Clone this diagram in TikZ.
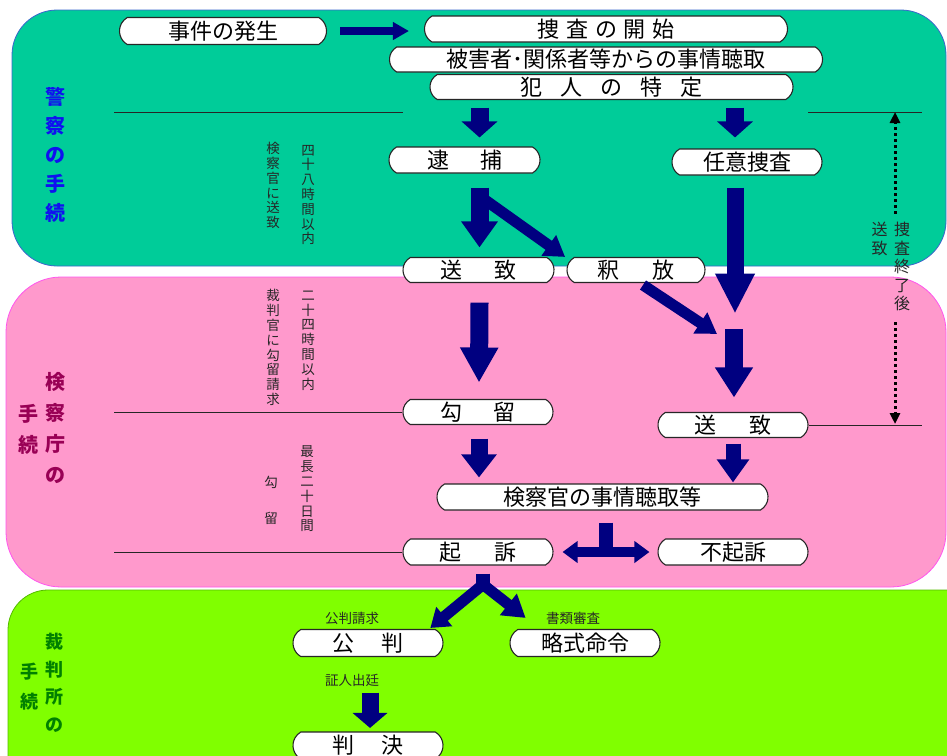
\documentclass[tikz,border=0pt]{standalone}
\usepackage{fontspec}
\setmainfont{Noto Sans CJK JP}
\usetikzlibrary{arrows.meta,calc,shapes.misc}
\definecolor{police}{HTML}{00CC99}
\definecolor{policeedge}{HTML}{3A66CC}
\definecolor{prosec}{HTML}{FF99CC}
\definecolor{prosecedge}{HTML}{FF55EE}
\definecolor{court}{HTML}{80FF00}
\definecolor{courtedge}{HTML}{55BB00}
\definecolor{navy}{HTML}{000080}
\definecolor{polblue}{HTML}{1010F0}
\definecolor{prosred}{HTML}{990055}
\definecolor{courtgreen}{HTML}{008000}
\newcommand{\jsp}[1]{\hspace{#1pt}}
\tikzset{
  box/.style={rounded rectangle, rounded rectangle arc length=120, draw=black!85, line width=1.1pt, fill=white,
    minimum height=25pt, inner sep=0pt, font=\fontsize{22}{22}\selectfont},
  blk/.style n args={3}{color=navy, line width=#1, -{Triangle[length=#3,width=#2]}},
  sepline/.style={draw=black!85, line width=0.9pt},
  vt/.style={align=center, inner sep=0pt, text=black!85, font=\fontsize{13.5}{14.8}\selectfont},
  plab/.style={align=center, inner sep=0pt},
  sl/.style={inner sep=0pt, text=black!85, font=\fontsize{13.5}{14}\selectfont},
  dots/.style={draw=black, line width=3pt, dash pattern=on 3pt off 3pt, -{Triangle[length=11pt,width=10pt]}}
}
\begin{document}
\begin{tikzpicture}[x=1pt,y=-1pt]
\useasboundingbox (0,0) rectangle (947,755);
\clip (0,0) rectangle (947,755);
\fill[white] (0,0) rectangle (947,755);
% panels
\draw[fill=police, draw=policeedge, line width=0.8pt, rounded corners=45pt] (12,10) rectangle (946,266);
\draw[fill=prosec, draw=prosecedge, line width=0.8pt, rounded corners=55pt] (6,277) rectangle (946,587);
\draw[fill=court, draw=courtedge, line width=0.8pt, rounded corners=40pt] (8,590) rectangle (1000,820);
% panel labels
\node[plab, text=polblue, font=\fontsize{20}{29}\selectfont\bfseries] (lpol) at (55,155) {警\\察\\の\\手\\続};
\node[plab, text=prosred, font=\fontsize{20}{31}\selectfont\bfseries] (lpro1) at (55,428.5) {検\\察\\庁\\の};
\node[plab, text=prosred, font=\fontsize{20}{31}\selectfont\bfseries] (lpro2) at (28,429) {手\\続};
\node[plab, text=courtgreen, font=\fontsize{18}{27.5}\selectfont\bfseries] (lcou1) at (54,683) {裁\\判\\所\\の};
\node[plab, text=courtgreen, font=\fontsize{18}{30}\selectfont\bfseries] (lcou2) at (29,687) {手\\続};
% boxes
\node[box, minimum width=207pt, minimum height=27pt] (jiken) at (223,31) {事件の発生};
\node[box, minimum width=363pt, minimum height=26pt] (sousa) at (606,29) {捜\jsp{7}査\jsp{7}の\jsp{7}開\jsp{7}始};
\node[box, minimum width=433pt] (choushu) at (606,59.5) {被害者･関係者等からの事情聴取};
\node[box, minimum width=363pt] (hannin) at (611.5,87) {犯\jsp{18}人\jsp{18}の\jsp{18}特\jsp{18}定};
\node[box, minimum width=151pt, minimum height=26pt] (taiho) at (464.5,160) {逮\jsp{31}捕};
\node[box, minimum width=150pt, minimum height=26pt] (nini) at (747,162) {任意捜査};
\node[box, minimum width=151pt] (souchi1) at (478.5,270) {送\jsp{32}致};
\node[box, minimum width=138pt] (shakuho) at (636,270) {釈\jsp{33}放};
\node[box, minimum width=150pt] (kouryu) at (478,412) {勾\jsp{31}留};
\node[box, minimum width=150pt] (souchi2) at (733,425) {送\jsp{33}致};
\node[box, minimum width=331pt, minimum height=26pt] (kensatsu) at (602.5,497) {検察官の事情聴取等};
\node[box, minimum width=150pt, minimum height=26pt] (kiso) at (478,552) {起\jsp{33}訴};
\node[box, minimum width=150pt, minimum height=26pt] (fukiso) at (733,552) {不起訴};
\node[box, minimum width=150pt, minimum height=27pt] (kouhan) at (368,643) {公\jsp{28}判};
\node[box, minimum width=150pt, minimum height=27pt] (ryakushiki) at (585,643) {略式命令};
\node[box, minimum width=150pt, minimum height=27pt] (hanketsu) at (368,745.5) {判\jsp{28}決};
% separator lines
\coordinate (s1a) at (114,112);
\coordinate (s1b) at (403,112);
\coordinate (s2a) at (808,112);
\coordinate (s2b) at (922,112);
\coordinate (s3a) at (114,412);
\coordinate (s4a) at (114,552);
\coordinate (s5b) at (922,425);
\draw[sepline] (s1a) -- (s1b);
\draw[sepline] (s2a) -- (s2b);
\draw[sepline] (s3a) -- (kouryu.west);
\draw[sepline] (s4a) -- (kiso.west);
\draw[sepline] (souchi2.east) -- (s5b);
% vertical small texts
\node[vt] (t1) at (273,185.5) {検\\察\\官\\に\\送\\致};
\node[vt] (t2) at (308,195) {四\\十\\八\\時\\間\\以\\内};
\node[vt] (t3) at (273,347.5) {裁\\判\\官\\に\\勾\\留\\請\\求};
\node[vt] (t4) at (308,340.5) {二\\十\\四\\時\\間\\以\\内};
\node[vt] (t5) at (271,482) {勾};
\node[vt] (t6) at (271,518) {留};
\node[vt] (t7) at (307,489) {最\\長\\二\\十\\日\\間};
% right side label
\node[vt, font=\fontsize{16}{18.5}\selectfont] (shuryo) at (902,266.5) {捜\\査\\終\\了\\後};
\node[vt, font=\fontsize{16}{18.5}\selectfont] (souchiR) at (879.5,239) {送\\致};
\coordinate (rtop) at (895,112);
\coordinate (rbot) at (895,424);
\draw[dots] ($(shuryo.north -| rtop)+(0,-8)$) -- (rtop);
\draw[dots] ($(shuryo.south -| rbot)+(0,11)$) -- (rbot);
% small labels
\node[sl] (l1) at (352,618) {公判請求};
\node[sl] (l2) at (573,618) {書類審査};
\node[sl] (l3) at (352,680) {証人出廷};
% arrows
\draw[blk={8pt}{17pt}{16pt}] ($(jiken.east)+(13,0)$) -- ($(sousa.west |- jiken.east)+(-15,0)$);
\draw[blk={18pt}{35pt}{16pt}] ($(hannin.south -| souchi1)+(1,7.5)$) -- ($(taiho.north -| souchi1)+(1,-9)$);
\draw[blk={18pt}{35pt}{16pt}] ($(hannin.south -| nini)+(-12,7.5)$) -- ($(nini.north)+(-12,-11)$);
\draw[blk={18pt}{35pt}{26pt}] ($(taiho.south -| souchi1)+(1,14)$) -- ($(souchi1.north)+(1,-9.5)$);
\draw[blk={11pt}{24pt}{20pt}] ($(taiho.south)+(20,26)$) -- ($(shakuho.north west)+(-9,0)$);
\draw[blk={17pt}{37pt}{40pt}] ($(nini.south)+(-12,12)$) -- ($(nini.south)+(-12,138)$);
\draw[blk={11pt}{24pt}{20pt}] ($(shakuho.south)+(7,2)$) -- ($(souchi2.north)+(-16,-78)$);
\draw[blk={18pt}{36pt}{30pt}] ($(souchi2.north)+(1,-82.5)$) -- ($(souchi2.north)+(1,-14.5)$);
\draw[blk={18pt}{36pt}{35pt}] ($(souchi1.south)+(1,19.5)$) -- ($(kouryu.north)+(1,-16.5)$);
\draw[blk={17pt}{34pt}{23pt}] ($(kouryu.south)+(1,13.5)$) -- ($(kensatsu.north -| kouryu)+(1,-6)$);
\draw[blk={15pt}{31pt}{23pt}] ($(souchi2.south)+(0,5.5)$) -- ($(kensatsu.north -| souchi2)+(0,-1)$);
% T arrow
\draw[color=navy, line width=14pt] ($(kensatsu.south)+(3.5,12)$) -- ($(kensatsu.south |- kiso.east)+(3.5,0)$);
\draw[color=navy, line width=10pt, {Triangle[length=15pt,width=21pt]}-{Triangle[length=15pt,width=21pt]}] ($(kiso.east)+(9,0)$) -- ($(fukiso.west)+(-8,0)$);
% fork
\draw[blk={11pt}{24pt}{18pt}] ($(kiso.south)+(5,19)$) -- ($(kouhan.north east)+(-5,-1)$);
\draw[blk={11pt}{26pt}{22pt}] ($(kiso.south)+(5,19)$) -- ($(ryakushiki.north west)+(8,-11)$);
\draw[color=navy, line width=14pt] ($(kiso.south)+(5,8)$) -- ($(kiso.south)+(5,26)$);
\draw[blk={17pt}{34pt}{15pt}] ($(kouhan.south)+(2,35.5)$) -- ($(hanketsu.north)+(2,-3.5)$);
\end{tikzpicture}
\end{document}
